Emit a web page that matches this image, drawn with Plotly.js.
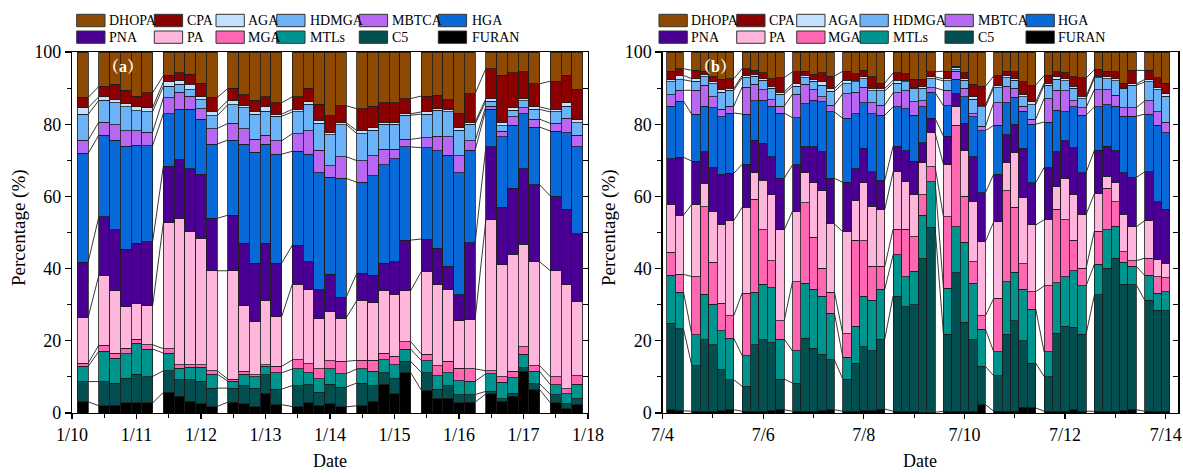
<!DOCTYPE html>
<html><head><meta charset="utf-8">
<script src="https://cdn.plot.ly/plotly-3.0.1.min.js"></script>
<style>html,body{margin:0;padding:0;background:#fff}#chart{width:1183px;height:473px}</style>
</head><body><div id="chart"></div>
<script>
// stacking order, bottom to top
const species = ['FURAN','C5','MTLs','MGA','PA','PNA','HGA','MBTCA','HDMGA','AGA','CPA','DHOPA'];
const colors = {
  DHOPA:'#8E4A02', CPA:'#8B0000', AGA:'#C2E0FF', HDMGA:'#6CB2F6', MBTCA:'#B767F2', HGA:'#086AD8',
  PNA:'#4B0094', PA:'#FFB6DC', MGA:'#FF67B2', MTLs:'#00948F', C5:'#034E4E', FURAN:'#000000'
};

// ---- panel (a): winter, sampling times (MM-DD HH) ----
const tA = ['01-10 04',
 '01-10 12','01-10 16','01-10 20','01-11 00','01-11 04',
 '01-11 12','01-11 16','01-11 20','01-12 00','01-12 04',
 '01-12 12','01-12 16','01-12 20','01-13 00','01-13 04',
 '01-13 12','01-13 16','01-13 20','01-14 00','01-14 04',
 '01-14 12','01-14 16','01-14 20','01-15 00','01-15 04',
 '01-15 12','01-15 16','01-15 20','01-16 00','01-16 04',
 '01-16 12','01-16 16','01-16 20','01-17 00','01-17 04',
 '01-17 12','01-17 16','01-17 20'];
const a_FURAN = [3.1,2.0,2.1,2.8,2.9,2.8, 5.7,4.6,3.2,2.6,1.8, 3.0,2.6,1.8,5.5,2.3, 1.8,2.9,2.0,2.6,1.7, 2.0,3.2,8.0,5.3,11.2, 6.3,4.0,4.1,2.8,3.0, 5.3,3.2,4.6,11.5,6.5, 2.8,1.2,2.3];
const a_C5    = [5.6,6.7,6.2,6.8,7.9,7.3, 6.0,4.6,6.0,6.2,5.1, 3.9,5.0,5.1,5.1,4.3, 5.8,4.9,3.7,5.4,5.5, 6.3,4.4,3.1,4.2,3.1, 4.9,2.6,3.5,2.3,2.1, 0.7,0.7,0.9,1.1,1.6, 2.3,1.4,1.6];
const a_MTLs  = [4.2,8.4,6.9,6.8,8.5,7.6, 4.9,3.2,3.5,3.9,3.9, 1.9,3.2,3.1,2.3,4.5, 4.6,3.4,3.8,4.2,3.7, 3.9,3.9,3.6,3.9,3.4, 3.3,3.7,3.6,3.9,3.7, 4.9,4.6,4.2,3.7,3.4, 2.7,2.7,4.1];
const a_MGA   = [0.9,1.7,1.4,1.6,1.2,1.2, 1.2,1.0,0.7,0.7,0.9, 0.6,0.7,0.6,0.5,1.8, 2.5,2.4,2.7,2.3,3.4, 2.4,3.1,1.9,2.3,2.1, 1.8,2.8,3.1,3.4,3.4, 0.8,1.6,1.8,2.1,1.6, 2.2,1.4,2.3];
const a_PA    = [12.7,19.4,17.3,11.5,9.7,10.8, 34.9,40.5,36.8,35.0,27.7, 30.0,18.2,14.7,17.9,13.8, 21.0,20.5,13.9,13.6,12.0, 16.6,16.0,17.2,17.2,14.1, 22.9,22.4,19.8,13.2,13.8, 41.8,30.9,32.5,28.3,28.8, 29.4,28.8,20.6];
const a_PNA   = [15.3,16.2,16.8,15.9,16.8,17.8, 15.7,16.3,17.5,17.7,14.5, 15.4,17.3,16.2,15.7,14.8, 10.8,7.8,8.0,10.3,5.8, 7.5,7.6,7.7,9.0,14.0, 9.0,10.1,6.5,7.1,21.2, 20.2,16.0,18.2,21.0,21.3, 20.7,20.9,18.8];
const a_HGA   = [30.1,22.6,24.9,28.5,27.2,26.6, 14.5,13.9,16.4,15.3,20.6, 20.8,27.5,30.7,27.5,30.2, 26.0,29.8,32.4,26.9,32.9, 25.2,27.5,27.3,28.6,25.8, 25.3,27.0,30.8,33.8,25.6, 10.4,19.5,17.5,15.2,16.0, 18.0,21.3,24.0];
const a_MBTCA = [3.7,3.6,4.2,4.3,4.0,3.7, 4.4,4.8,3.7,2.9,4.3, 4.6,4.3,3.6,2.5,3.7, 4.9,6.5,6.3,3.2,6.0, 6.0,5.6,4.2,2.5,2.1, 2.7,4.1,5.1,4.7,2.6, 0.9,1.6,2.3,1.7,2.2, 2.1,3.9,3.3];
const a_HDMGA = [7.1,6.0,6.1,6.6,5.5,5.7, 3.2,2.1,1.8,2.5,3.5, 5.2,5.8,6.9,6.6,6.8, 6.0,7.3,7.4,8.6,8.9, 7.5,7.0,7.0,7.0,6.7, 6.6,7.2,6.9,7.1,4.6, 1.4,1.5,1.9,1.9,2.7, 3.2,3.4,3.4];
const a_AGA   = [1.9,1.0,1.0,0.9,1.1,1.1, 1.2,1.2,1.4,0.8,1.3, 1.2,0.7,0.9,1.2,0.6, 0.7,0.7,0.7,0.6,0.5, 0.8,0.7,0.5,0.6,0.4, 0.6,0.4,0.7,0.7,0.6, 0.7,0.9,0.7,0.6,0.7, 0.7,1.0,0.9];
const a_CPA   = [2.8,2.9,4.2,3.7,3.0,4.1, 1.8,2.1,2.8,3.8,3.8, 3.3,2.9,3.0,2.8,3.1, 3.5,3.7,4.6,4.6,4.7, 6.1,6.0,5.5,5.4,4.2, 4.4,3.7,2.7,4.1,7.9, 8.3,13.0,9.7,7.4,6.4, 7.8,7.5,8.4];
const a_DHOPA = [12.6,9.5,8.9,10.6,12.2,11.3, 6.5,5.7,6.2,8.6,12.6, 10.1,11.8,13.4,12.4,14.1, 12.4,10.1,14.5,17.7,14.9, 15.7,15.0,14.0,14.0,12.9, 12.2,12.0,13.2,16.9,11.5, 4.6,6.5,5.7,5.5,8.8, 8.1,6.5,10.3];

// ---- panel (b): summer ----
const tB = ['07-04 04','07-04 08',
 '07-04 16','07-04 20','07-05 00','07-05 04','07-05 08',
 '07-05 16','07-05 20','07-06 00','07-06 04','07-06 08',
 '07-06 16','07-06 20','07-07 00','07-07 04','07-07 08',
 '07-07 16','07-07 20','07-08 00','07-08 04','07-08 08',
 '07-08 16','07-08 20','07-09 00','07-09 04','07-09 08',
 '07-09 16','07-09 20','07-10 00','07-10 04','07-10 08',
 '07-10 16','07-10 20','07-11 00','07-11 04','07-11 08',
 '07-11 16','07-11 20','07-12 00','07-12 04','07-12 08',
 '07-12 16','07-12 20','07-13 00','07-13 04','07-13 08',
 '07-13 16','07-13 20','07-14 00'];
const b_FURAN = [0.9,0.6, 0.5,0.5,0.5,0.6,0.9, 0.5,0.5,0.5,0.6,0.9, 0.5,0.5,0.5,0.6,0.9, 0.5,0.5,0.7,0.6,1.1, 0.5,0.5,0.5,0.2,0.2, 0.5,0.5,0.5,0.5,2.3, 0.5,0.5,0.5,1.6,1.4, 0.5,0.5,0.5,0.9,0.5, 0.5,0.5,0.5,0.6,0.9, 0.5,0.5,0.5];
const b_C5    = [24.0,22.7, 12.6,19.8,18.4,11.4,8.3, 6.9,18.4,19.8,18.9,8.5, 7.8,20.2,17.5,15.7,13.8, 8.9,13.3,17.7,16.6,19.4, 31.9,29.0,29.5,42.7,51.2, 21.3,38.4,24.7,19.8,10.6, 9.8,21.3,25.0,18.4,12.4, 9.6,21.6,23.6,22.9,21.3, 32.2,39.6,42.4,35.1,34.6, 30.7,27.9,27.8];
const b_MTLs  = [13.3,10.2, 8.6,12.6,11.2,10.8,11.5, 8.5,14.6,15.4,15.2,11.1, 8.9,15.2,16.3,16.1,12.9, 6.1,10.2,14.0,14.1,13.8, 11.4,8.3,9.2,11.9,12.7, 12.8,12.7,22.1,15.6,10.3, 6.6,14.6,13.5,14.3,15.0, 6.8,14.0,13.7,15.6,13.4, 8.5,10.6,8.9,6.1,5.1, 6.9,4.8,5.3];
const b_MGA   = [6.3,4.9, 16.1,24.2,11.7,7.6,6.3, 17.3,25.7,15.0,7.5,5.0, 19.2,22.4,14.4,7.7,5.9, 6.4,23.9,15.3,9.3,6.3, 7.1,13.1,9.6,5.6,4.1, 19.8,28.1,12.8,6.0,3.7, 14.9,25.2,18.0,7.0,4.8, 18.3,20.3,15.8,8.5,4.9, 9.2,11.5,6.7,2.9,1.6, 4.8,4.6,3.9];
const b_PA    = [13.3,16.4, 20.0,6.5,14.0,21.9,26.3, 23.8,7.3,13.8,18.2,25.2, 19.5,8.2,15.2,21.4,18.9, 28.3,10.9,16.1,16.7,15.8, 15.9,13.3,11.8,8.9,9.4, 14.5,5.1,12.5,16.8,20.6, 21.2,7.8,15.2,18.4,18.5, 18.3,6.3,11.4,12.7,14.9, 10.4,3.4,5.3,10.3,9.4, 10.4,4.6,4.0];
const b_PNA   = [12.7,16.0, 12.0,8.8,12.2,13.8,13.1, 11.9,9.1,10.2,10.6,14.3, 12.8,7.2,9.8,10.9,12.6, 13.7,8.9,9.5,9.5,8.1, 7.1,8.4,9.2,5.6,4.0, 7.8,3.7,7.6,12.3,13.5, 13.2,7.7,7.8,13.6,11.7, 14.5,9.7,10.4,12.9,11.6, 12.0,8.3,8.8,11.6,13.7, 13.5,16.1,14.9];
const b_HGA   = [14.5,15.6, 12.9,12.6,16.6,15.9,16.7, 13.9,10.9,11.9,14.0,18.1, 13.1,12.0,12.9,13.8,18.4, 17.7,15.2,12.7,16.1,18.0, 10.9,11.7,12.7,9.9,7.2, 8.4,3.9,7.4,11.0,17.2, 13.5,8.8,7.4,10.3,16.2, 12.6,11.5,8.0,11.3,15.9, 12.0,11.5,12.4,15.6,16.9, 16.0,21.2,21.2];
const b_MBTCA = [3.2,3.0, 6.7,5.8,3.0,2.1,1.9, 7.5,4.5,3.0,1.8,1.9, 6.5,5.4,3.0,1.4,1.9, 6.9,6.0,4.3,3.0,2.8, 3.9,4.9,3.7,1.7,1.3, 4.3,2.3,2.3,0.9,1.2, 6.3,4.6,2.5,1.4,1.4, 6.5,5.5,5.8,1.7,2.1, 4.8,4.2,3.0,2.4,2.4, 3.7,3.7,2.9];
const b_HDMGA = [3.5,2.9, 2.5,2.3,3.6,4.8,4.4, 2.6,2.3,2.6,3.1,3.3, 2.2,1.8,2.3,3.2,3.8, 2.7,2.8,2.3,3.3,3.9, 2.7,2.5,3.7,3.4,2.5, 2.6,0.4,2.3,4.0,5.4, 4.1,2.4,2.3,2.6,4.0, 3.7,3.0,2.8,3.4,2.5, 3.2,3.0,4.0,5.3,6.2, 5.2,6.2,7.3];
const b_AGA   = [0.6,1.2, 0.7,0.7,0.5,0.7,0.5, 0.6,0.5,0.4,0.6,0.6, 0.7,0.6,0.5,0.9,0.8, 1.0,0.5,0.5,0.7,0.7, 0.8,0.5,0.4,0.6,0.5, 0.6,0.5,0.4,0.7,0.5, 0.7,0.6,0.4,0.7,0.8, 0.6,0.7,0.6,0.6,0.6, 0.5,0.7,0.6,0.4,0.4, 0.7,0.5,0.7];
const b_CPA   = [2.4,1.9, 2.3,0.9,1.6,2.8,2.7, 1.9,1.1,1.6,2.1,4.0, 3.3,1.2,1.4,2.5,3.4, 2.5,1.8,1.8,3.2,1.5, 2.0,1.8,2.1,1.9,1.4, 2.1,0.5,1.6,3.4,5.2, 2.6,1.2,1.9,3.4,4.6, 2.1,1.4,1.7,2.6,5.1, 1.8,1.4,1.9,1.1,3.7, 2.5,2.8,2.9];
const b_DHOPA = [5.3,4.6, 5.1,5.3,6.7,7.6,7.4, 4.6,5.1,5.8,7.4,7.1, 5.5,5.3,6.2,5.8,6.7, 5.3,6.0,5.1,6.9,8.6, 5.8,6.0,7.6,7.6,5.5, 5.3,3.9,5.8,9.0,9.5, 6.6,5.3,5.5,8.3,9.2, 6.5,5.5,5.7,6.9,7.2, 4.9,5.3,5.5,8.6,5.1, 5.1,7.1,8.6];

const dataA = {FURAN:a_FURAN,C5:a_C5,MTLs:a_MTLs,MGA:a_MGA,PA:a_PA,PNA:a_PNA,HGA:a_HGA,MBTCA:a_MBTCA,HDMGA:a_HDMGA,AGA:a_AGA,CPA:a_CPA,DHOPA:a_DHOPA};
const dataB = {FURAN:b_FURAN,C5:b_C5,MTLs:b_MTLs,MGA:b_MGA,PA:b_PA,PNA:b_PNA,HGA:b_HGA,MBTCA:b_MBTCA,HDMGA:b_HDMGA,AGA:b_AGA,CPA:b_CPA,DHOPA:b_DHOPA};

const W = 1183, H = 473;
const px = v => v / W;
const py = v => (H - v) / H;
const H4 = 4 * 3600 * 1000;
const toMs = s => Date.parse('2019-' + s.replace(' ', 'T') + ':00Z');
const FONT = 'Liberation Serif, Times New Roman, serif';

const traces = [];
function addPanel(times, data, xa, ya, yl) {
  const xs = times.map(toMs);
  species.forEach(sp => traces.push({
    type: 'bar', x: xs, y: data[sp], width: H4, xaxis: xa, yaxis: ya,
    marker: {color: colors[sp], line: {color: '#1c1c1c', width: 0.8}},
    showlegend: false, hoverinfo: 'skip'
  }));
  // cumulative boundaries per bar
  const cum = xs.map((_, i) => { let s = 0; return species.slice(0, 11).map(sp => (s += data[sp][i])); });
  const lx = [], ly = [];
  for (let i = 0; i < xs.length - 1; i++) {
    if (xs[i + 1] - xs[i] > H4 + 1000) {
      for (let k = 0; k < 11; k++) {
        lx.push(xs[i] + H4 / 2, xs[i + 1] - H4 / 2, null);
        ly.push(cum[i][k], cum[i + 1][k], null);
      }
    }
  }
  traces.push({type: 'scatter', mode: 'lines', x: lx, y: ly, xaxis: xa, yaxis: yl,
    line: {color: '#222', width: 0.9}, showlegend: false, hoverinfo: 'skip', connectgaps: false});
}
addPanel(tA, dataA, 'x', 'y', 'y3');
addPanel(tB, dataB, 'x2', 'y2', 'y4');

const yDom = [py(413), py(52)];
const tickfont = {family: FONT, size: 18, color: '#000'};
function xAxis(dom, range, dtick, minor, tick0, anchor) {
  return {domain: dom, anchor: anchor, type: 'date', range: range, tick0: tick0, dtick: dtick,
    tickformat: '%-m/%-d', ticks: 'outside', ticklen: 5, tickwidth: 1.2, tickcolor: '#000',
    showline: true, linecolor: '#000', linewidth: 1.2, mirror: true, showgrid: false, zeroline: false,
    tickfont: tickfont, fixedrange: true,
    minor: {dtick: minor, tick0: tick0, ticks: 'outside', ticklen: 4, tickwidth: 1.2, tickcolor: '#000', showgrid: false}};
}
function yAxis(anchor) {
  return {domain: yDom, anchor: anchor, range: [0, 100], dtick: 20, ticks: 'outside', ticklen: 6,
    tickwidth: 1.2, tickcolor: '#000', showline: true, linecolor: '#000', linewidth: 1.2, mirror: true,
    showgrid: false, zeroline: false, tickfont: tickfont, fixedrange: true,
    minor: {dtick: 10, ticks: 'outside', ticklen: 4, tickwidth: 1.2, tickcolor: '#000', showgrid: false}};
}
function yRight(over, anchor) {
  return {overlaying: over, anchor: anchor, side: 'right', range: [0, 100], dtick: 10, ticks: 'inside',
    ticklen: 5, tickwidth: 1.2, tickcolor: '#000', showticklabels: false, showline: false,
    showgrid: false, zeroline: false, fixedrange: true};
}

const shapes = [], annotations = [];
// legends (drawn as boxes + text, matching the reference layout)
const legRows = [[14.3, 26.7], [31, 43.3]];
const legA = [
  ['DHOPA', 76.7, 108, 0], ['CPA', 154.3, 186, 0], ['AGA', 216, 246.5, 0], ['HDMGA', 276.7, 309, 0], ['MBTCA', 359.3, 390.5, 0], ['HGA', 438.3, 470.5, 0],
  ['PNA', 76.7, 108, 1], ['PA', 154.3, 186, 1], ['MGA', 216, 246.5, 1], ['MTLs', 276.7, 309, 1], ['C5', 359.3, 390.5, 1], ['FURAN', 438.3, 470.5, 1]];
const legB = [
  ['DHOPA', 659, 690, 0], ['CPA', 736.7, 768, 0], ['AGA', 796.7, 827, 0], ['HDMGA', 860, 892, 0], ['MBTCA', 945, 976.5, 0], ['HGA', 1026, 1056.5, 0],
  ['PNA', 659, 690, 1], ['PA', 736.7, 768, 1], ['MGA', 796.7, 827, 1], ['MTLs', 860, 892, 1], ['C5', 945, 976.5, 1], ['FURAN', 1026, 1056.5, 1]];
[legA, legB].forEach(leg => leg.forEach(([name, bx, tx, r]) => {
  const [y0, y1] = legRows[r];
  shapes.push({type: 'rect', xref: 'paper', yref: 'paper', x0: px(bx), x1: px(bx + 28.3), y0: py(y1), y1: py(y0),
    fillcolor: colors[name], line: {color: '#333', width: 1}});
  annotations.push({xref: 'paper', yref: 'paper', x: px(tx), y: py((y0 + y1) / 2), xanchor: 'left', yanchor: 'middle',
    text: name, showarrow: false, font: {family: FONT, size: 14, color: '#000'}, borderpad: 0});
}));
// panel labels
const labFont = {family: 'Liberation Serif, Noto Serif CJK SC, Noto Sans CJK SC', size: 16, color: '#fff'};
annotations.push({xref: 'paper', yref: 'paper', x: px(123), y: py(66), xanchor: 'center', yanchor: 'middle', showarrow: false,
  text: '<b>（a）</b>', font: labFont});
annotations.push({xref: 'paper', yref: 'paper', x: px(716), y: py(66), xanchor: 'center', yanchor: 'middle', showarrow: false,
  text: '<b>（b）</b>', font: labFont});
// axis titles
[[330, 'Date'], [920, 'Date']].forEach(([x, t]) => annotations.push({xref: 'paper', yref: 'paper', x: px(x), y: py(461),
  xanchor: 'center', yanchor: 'middle', showarrow: false, text: t, font: {family: FONT, size: 18, color: '#000'}}));
[19, 609].forEach(x => annotations.push({xref: 'paper', yref: 'paper', x: px(x), y: py(228), xanchor: 'center', yanchor: 'middle',
  showarrow: false, textangle: -90, text: 'Percentage (%)', font: {family: FONT, size: 19, color: '#000'}}));

const layout = {
  width: W, height: H, margin: {l: 0, r: 0, t: 0, b: 0}, paper_bgcolor: '#fff', plot_bgcolor: '#fff',
  barmode: 'stack', showlegend: false,
  xaxis: xAxis([px(72), px(588)], ['2019-01-10 00:00', '2019-01-18 00:00'], 86400000, 43200000, '2019-01-10', 'y'),
  xaxis2: xAxis([px(662.5), px(1178.3)], ['2019-07-04 00:00', '2019-07-14 06:00'], 172800000, 86400000, '2019-07-04', 'y2'),
  yaxis: yAxis('x'),
  yaxis2: yAxis('x2'),
  yaxis3: yRight('y', 'x'),
  yaxis4: yRight('y2', 'x2'),
  shapes: shapes, annotations: annotations
};
Plotly.newPlot('chart', traces, layout, {staticPlot: true, displayModeBar: false});
</script></body></html>
